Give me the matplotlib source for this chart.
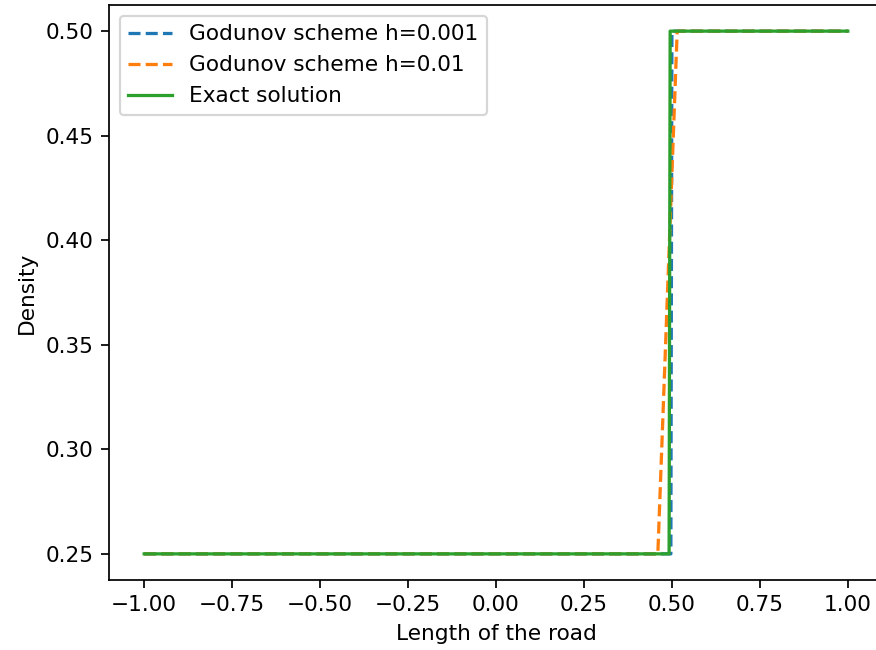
import matplotlib.pyplot as plt

# Godunov scheme, h = 0.001
x_fine = [-1.0, 0.497, 0.500, 1.0]
rho_fine = [0.25, 0.25, 0.50, 0.50]

# Godunov scheme, h = 0.01
x_coarse = [-1.0, 0.46, 0.515, 1.0]
rho_coarse = [0.25, 0.25, 0.50, 0.50]

# exact solution
x_exact = [-1.0, 0.492, 0.495, 1.0]
rho_exact = [0.25, 0.25, 0.50, 0.50]

W, H = 877, 650
dpi = 156
fig = plt.figure(figsize=(W / dpi, H / dpi), dpi=dpi)
ax = fig.add_axes([109 / W, 1 - 580 / H, 774 / W, 575 / H])

ax.plot(x_fine, rho_fine, '--', label='Godunov scheme h=0.001')
ax.plot(x_coarse, rho_coarse, '--', label='Godunov scheme h=0.01')
ax.plot(x_exact, rho_exact, '-', label='Exact solution')

ax.set_xlabel('Length of the road')
ax.set_ylabel('Density')
ax.legend(loc='upper left')

fig.savefig('out.png', dpi=dpi)
